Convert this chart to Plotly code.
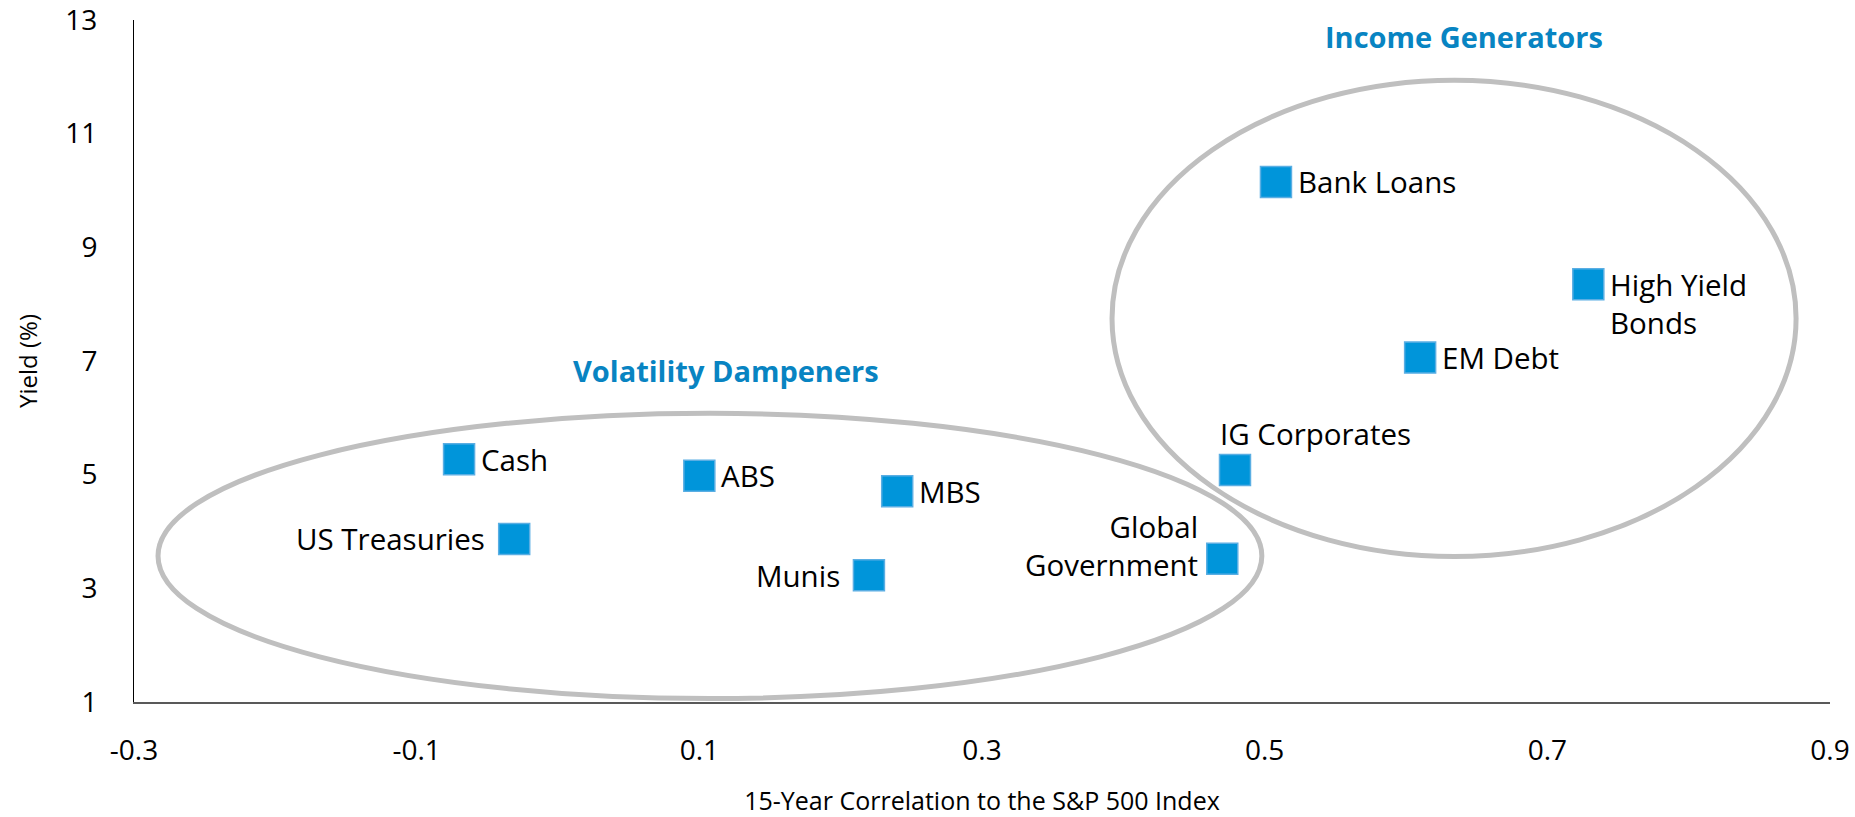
import plotly.graph_objects as go

# Asset classes: correlation to S&P 500 vs yield
names = ['Cash', 'US Treasuries', 'ABS', 'MBS', 'Munis', 'Global<br>Government',
         'IG Corporates', 'Bank Loans', 'EM Debt', 'High Yield<br>Bonds']
correlation = [-0.070, -0.031, 0.100, 0.240, 0.220, 0.470, 0.479, 0.508, 0.610, 0.729]
yield_pct = [5.27, 3.87, 4.98, 4.71, 3.23, 3.52, 5.08, 10.15, 7.06, 8.35]

x_ticks = [-0.3, -0.1, 0.1, 0.3, 0.5, 0.7, 0.9]
y_ticks = [1, 3, 5, 7, 9, 11, 13]

blue = '#0095DA'
group_blue = '#0884C2'
ring_grey = '#BFBFBF'
font = 'Open Sans, Noto Sans, sans-serif'

# label placement per point: (xanchor, yanchor, xshift, yshift, align)
label_pos = {
    'Cash': ('left', 'middle', 20, 0, 'left'),
    'US Treasuries': ('right', 'middle', -27, 0, 'right'),
    'ABS': ('left', 'middle', 20, 0, 'left'),
    'MBS': ('left', 'middle', 20, 0, 'left'),
    'Munis': ('right', 'middle', -27, 0, 'right'),
    'Global<br>Government': ('right', 'bottom', -22, -28, 'right'),
    'IG Corporates': ('left', 'bottom', -17, 14, 'left'),
    'Bank Loans': ('left', 'middle', 20, 0, 'left'),
    'EM Debt': ('left', 'middle', 20, 0, 'left'),
    'High Yield<br>Bonds': ('left', 'top', 20, 22, 'left'),
}

fig = go.Figure()

fig.add_trace(go.Scatter(
    x=correlation, y=yield_pct, mode='markers', text=names, hoverinfo='text',
    marker=dict(symbol='square', size=31, color=blue,
                line=dict(color='#5AAEE3', width=1.5)),
    showlegend=False,
))

# the two grouping rings
fig.add_shape(type='circle', xref='x', yref='y', x0=-0.283, x1=0.498, y0=1.06, y1=6.08,
              line=dict(color=ring_grey, width=5), layer='below')
fig.add_shape(type='circle', xref='x', yref='y', x0=0.392, x1=0.876, y0=3.56, y1=11.94,
              line=dict(color=ring_grey, width=5), layer='below')

annotations = []
for n, xv, yv in zip(names, correlation, yield_pct):
    xa, ya, xs, ys, al = label_pos[n]
    annotations.append(dict(x=xv, y=yv, text=n, showarrow=False, xanchor=xa, yanchor=ya,
                            xshift=xs, yshift=ys, align=al,
                            font=dict(family=font, size=29.5, color='#000000')))

annotations.append(dict(x=0.119, y=6.83, text='<b>Volatility Dampeners</b>', showarrow=False,
                        font=dict(family=font, size=29, color=group_blue)))
annotations.append(dict(x=0.641, y=12.71, text='<b>Income Generators</b>', showarrow=False,
                        font=dict(family=font, size=29, color=group_blue)))

fig.update_layout(
    width=1855, height=817,
    margin=dict(l=134, r=25, t=20, b=115),
    paper_bgcolor='white', plot_bgcolor='white',
    font=dict(family=font, color='#000000'),
    annotations=annotations,
    xaxis=dict(range=[-0.3, 0.9], tickvals=x_ticks, ticktext=[str(v) for v in x_ticks],
               automargin=False, ticklabeloverflow='allow',
               showgrid=False, zeroline=False, showline=True, linecolor='#595959', linewidth=2,
               ticks='', ticklabelstandoff=22, tickfont=dict(size=28, color='#000000'),
               title=dict(text='15-Year Correlation to the S&P 500 Index', standoff=30,
                          font=dict(size=25, color='#000000'))),
    yaxis=dict(range=[1, 13], tickvals=y_ticks, automargin=False, ticklabeloverflow='allow',
               showgrid=False, zeroline=False,
               showline=True, linecolor='#000000', linewidth=1,
               ticks='', ticklabelstandoff=30, tickfont=dict(size=28, color='#000000'),
               title=dict(text='Yield (%)', standoff=20, font=dict(size=24, color='#000000'))),
)

# drop the default page margin so the figure sits at the window's corner
fig.write_html('out.html', config={'displayModeBar': False},
               post_script="document.body.style.margin='0';")
